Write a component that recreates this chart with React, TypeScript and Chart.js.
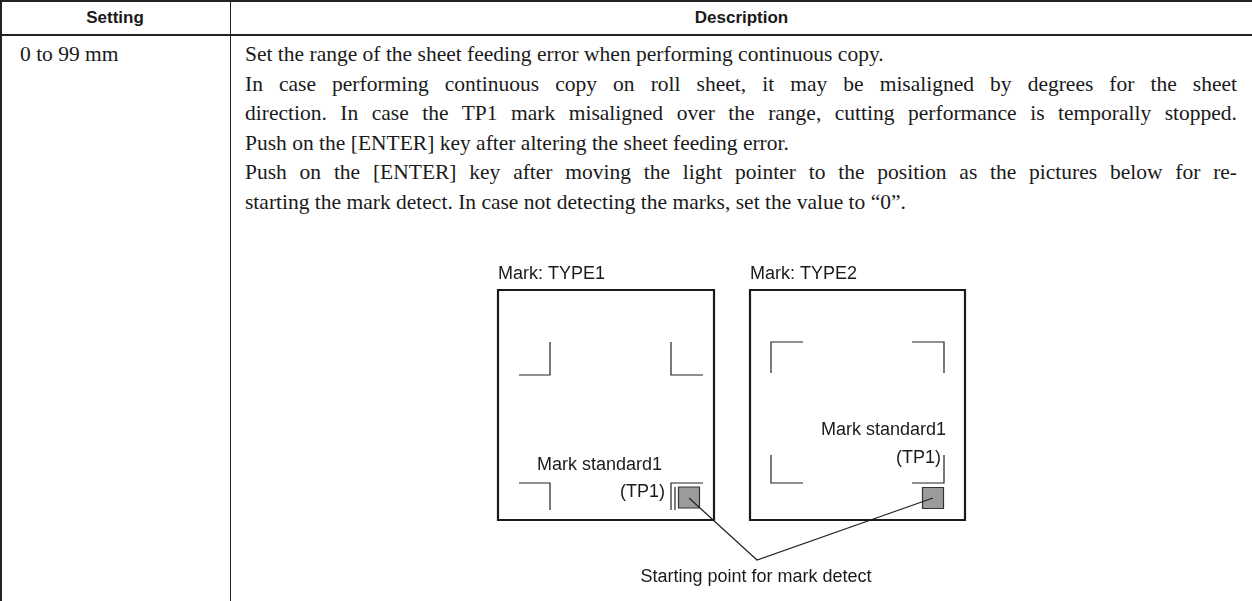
import React, { useEffect, useRef } from "react";
import { Chart, registerables } from "chart.js";

Chart.register(...registerables);

// ---- table content ----
const headerCells: string[] = ["Setting", "Description"];
const settingValue = "0 to 99 mm";
const descriptionLines: string[] = [
  "Set the range of the sheet feeding error when performing continuous copy.",
  "In case performing continuous copy on roll sheet, it may be misaligned by degrees for the sheet",
  "direction. In case the TP1 mark misaligned over the range, cutting performance is temporally stopped.",
  "Push on the [ENTER] key after altering the sheet feeding error.",
  "Push on the [ENTER] key after moving the light pointer to the position as the pictures below for re-",
  "starting the mark detect. In case not detecting the marks, set the value to \u201c0\u201d.",
];
const justifiedLines: boolean[] = [false, true, true, false, true, false];

// ---- diagram content (page-pixel coordinate space) ----
const boxTitles: string[] = ["Mark: TYPE1", "Mark: TYPE2"];
const standardLabel = "Mark standard1";
const tpLabel = "(TP1)";
const startLabel = "Starting point for mark detect";

// box outlines [x1, y1, x2, y2]
const boxes: number[][] = [
  [498, 290, 714, 520],
  [750, 290, 965, 520],
];
// corner mark polylines (x,y pairs)
const marksType1: number[][][] = [
  [[519, 375], [550, 375], [550, 342]],
  [[671, 342], [671, 375], [703, 375]],
  [[519, 483], [550, 483], [550, 510]],
  [[671, 510], [671, 483], [703, 483]],
  [[675, 510], [675, 487]],
];
const marksType2: number[][][] = [
  [[771, 373], [771, 342], [803, 342]],
  [[912, 342], [944, 342], [944, 373]],
  [[771, 455], [771, 483], [803, 483]],
  [[944, 455], [944, 483], [912, 483]],
];
// gray detection squares: centre x, centre y, side
const squareCentres: number[][] = [
  [689, 497.5],
  [933, 498],
];
const squareSide = 21;
// leader lines
const leaders: number[][][] = [
  [[689, 498], [757, 560], [933, 498]],
];
// text label anchors
const titlePos: number[][] = [[498, 274], [750, 274]];
const standardPos: number[][] = [[662, 465], [946, 430]];
const tpPos: number[][] = [[665, 492], [941, 458]];
const startPos: number[] = [756, 577];

const DIAG_LEFT = 236;
const DIAG_TOP = 215;
const PAGE_W = 1252;
const PAGE_H = 601;

function DiagramChart() {
  const ref = useRef<HTMLCanvasElement | null>(null);
  useEffect(() => {
    if (!ref.current) return;
    const lineDs = (pts: number[][], width: number, color: string) => ({
      type: "line" as const,
      data: pts.map(([x, y]) => ({ x, y })),
      borderColor: color,
      borderWidth: width,
      pointRadius: 0,
      showLine: true,
      fill: false,
      tension: 0,
      borderJoinStyle: "miter" as const,
      borderCapStyle: "butt" as const,
      backgroundColor: color,
    });
    const datasets: any[] = [];
    boxes.forEach(([x1, y1, x2, y2]) => {
      datasets.push(lineDs([[x1, y1], [x2, y1], [x2, y2], [x1, y2], [x1, y1], [x2, y1]], 2.2, "#1a1a1a"));
    });
    [...marksType1, ...marksType2].forEach((m) => datasets.push(lineDs(m, 1.2, "#222")));
    leaders.forEach((l) => datasets.push(lineDs(l, 1.2, "#222")));
    datasets.push({
      type: "scatter",
      data: squareCentres.map(([x, y]) => ({ x, y })),
      pointStyle: "rect",
      pointRadius: squareSide / 2 / Math.SQRT1_2,
      pointBackgroundColor: "#9b9b9b",
      pointBorderColor: "#333",
      pointBorderWidth: 1.2,
      showLine: false,
    });

    const textPlugin = {
      id: "diagramText",
      afterDatasetsDraw(chart: any) {
        const { ctx, scales } = chart;
        const px = (v: number) => scales.x.getPixelForValue(v);
        const py = (v: number) => scales.y.getPixelForValue(v);
        ctx.save();
        ctx.fillStyle = "#1a1a1a";
        ctx.font = '18px "Liberation Sans", Arial, sans-serif';
        ctx.textBaseline = "middle";
        ctx.textAlign = "left";
        titlePos.forEach(([x, y], i) => ctx.fillText(boxTitles[i], px(x), py(y)));
        ctx.textAlign = "right";
        standardPos.forEach(([x, y]) => ctx.fillText(standardLabel, px(x), py(y)));
        tpPos.forEach(([x, y]) => ctx.fillText(tpLabel, px(x), py(y)));
        ctx.textAlign = "center";
        ctx.fillText(startLabel, px(startPos[0]), py(startPos[1]));
        ctx.restore();
      },
    };

    const chart = new Chart(ref.current, {
      type: "scatter",
      data: { datasets },
      options: {
        animation: false,
        responsive: false,
        maintainAspectRatio: false,
        layout: { padding: 0, autoPadding: false },
        plugins: { legend: { display: false }, tooltip: { enabled: false } },
        scales: {
          x: { type: "linear", min: DIAG_LEFT, max: PAGE_W, display: false },
          y: { type: "linear", min: DIAG_TOP, max: PAGE_H, reverse: true, display: false },
        },
      },
      plugins: [textPlugin],
    });
    return () => chart.destroy();
  }, []);
  return (
    <canvas
      ref={ref}
      width={PAGE_W - DIAG_LEFT}
      height={PAGE_H - DIAG_TOP}
      style={{ position: "absolute", left: DIAG_LEFT, top: DIAG_TOP, width: PAGE_W - DIAG_LEFT, height: PAGE_H - DIAG_TOP }}
    />
  );
}

export default function App() {
  useEffect(() => {
    document.body.style.margin = "0";
    document.body.style.overflow = "hidden";
  }, []);
  const lineColor = "#222";
  const serif = '"Liberation Serif", "Times New Roman", serif';
  const sans = '"Liberation Sans", Arial, sans-serif';
  const textLeft = 245;
  const textRight = 1237;
  const firstLineY = 54;
  const lineStep = 29.5;
  const fs = 21.5;
  return (
    <div style={{ position: "relative", width: PAGE_W, height: PAGE_H, overflow: "hidden", background: "#fff", color: "#1a1a1a" }}>
      {/* table borders */}
      <div style={{ position: "absolute", left: 0, top: 0, width: PAGE_W, height: 2, background: lineColor }} />
      <div style={{ position: "absolute", left: 0, top: 34, width: PAGE_W, height: 2, background: lineColor }} />
      <div style={{ position: "absolute", left: 0, top: 0, width: 2, height: PAGE_H, background: lineColor }} />
      <div style={{ position: "absolute", left: 230, top: 0, width: 1, height: PAGE_H, background: lineColor }} />
      {/* header */}
      <div style={{ position: "absolute", left: 0, top: 2, width: 230, height: 32, lineHeight: "32px", textAlign: "center", fontFamily: sans, fontWeight: "bold", fontSize: 17 }}>{headerCells[0]}</div>
      <div style={{ position: "absolute", left: 231, top: 2, width: PAGE_W - 231, height: 32, lineHeight: "32px", textAlign: "center", fontFamily: sans, fontWeight: "bold", fontSize: 17 }}>{headerCells[1]}</div>
      {/* body */}
      <div style={{ position: "absolute", left: 20, top: firstLineY - 15, height: 30, lineHeight: "30px", fontFamily: serif, fontSize: fs, whiteSpace: "nowrap" }}>{settingValue}</div>
      {descriptionLines.map((t, i) => (
        <div
          key={i}
          style={{
            position: "absolute",
            left: textLeft,
            top: firstLineY - 15 + i * lineStep,
            width: textRight - textLeft,
            height: 30,
            lineHeight: "30px",
            fontFamily: serif,
            fontSize: fs,
            whiteSpace: justifiedLines[i] ? "normal" : "nowrap",
            textAlign: justifiedLines[i] ? "justify" : "left",
            textAlignLast: justifiedLines[i] ? "justify" : "left",
          } as React.CSSProperties}
        >
          {t}
        </div>
      ))}
      <DiagramChart />
    </div>
  );
}
